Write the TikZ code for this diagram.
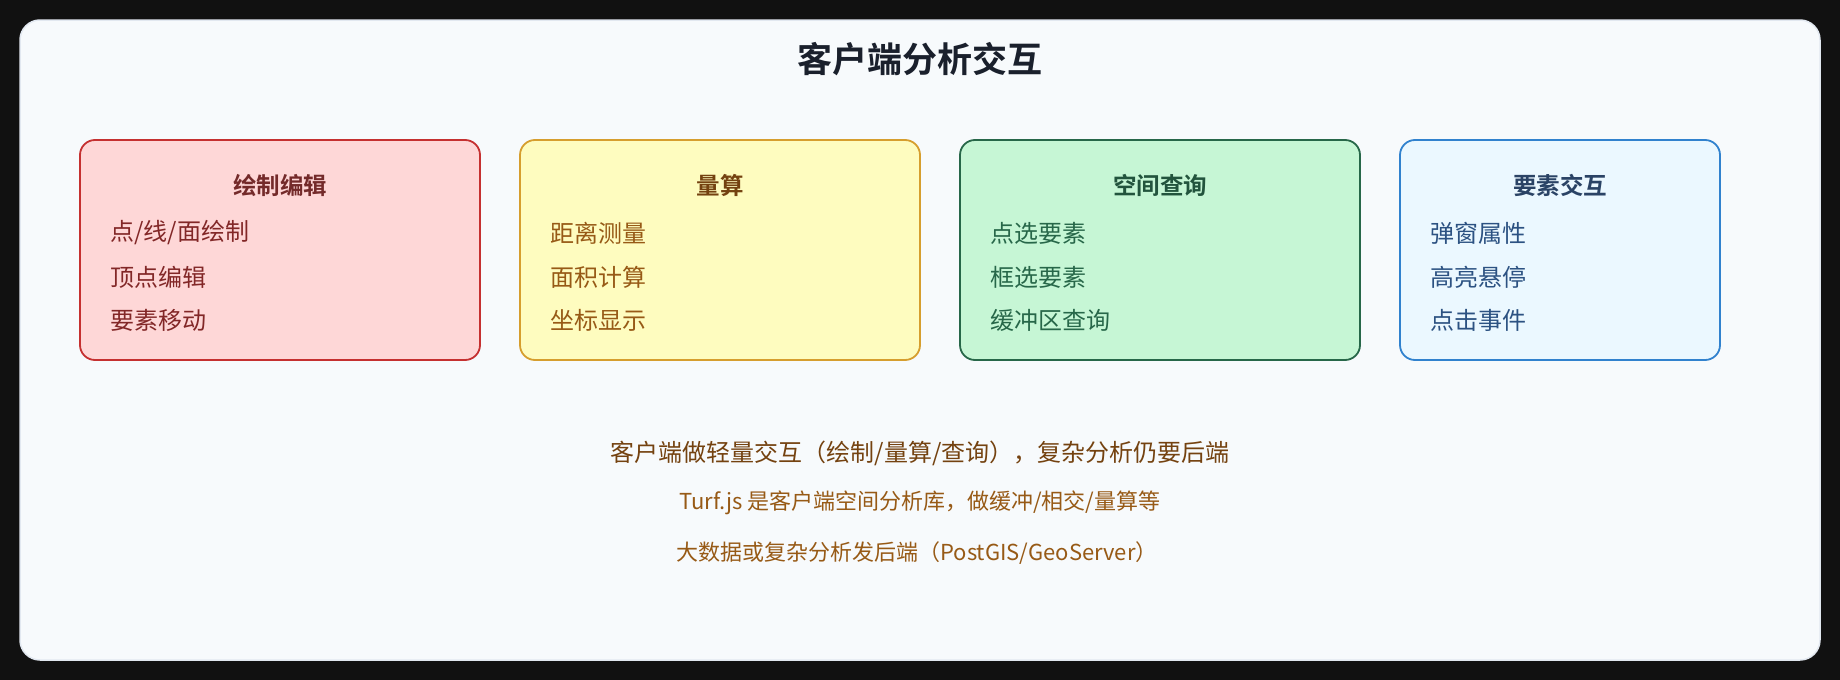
\documentclass[tikz,border=0pt]{standalone}
\usepackage{fontspec}
\setmainfont{Noto Sans CJK SC}
\newfontfamily\cjkb{Noto Sans CJK SC Bold}
\definecolor{bgdark}{HTML}{111111}
\definecolor{cardfill}{HTML}{F7FAFC}
\definecolor{cardline}{HTML}{E2E8F0}
\definecolor{titlecol}{HTML}{1A202C}
\definecolor{rfill}{HTML}{FED7D7}\definecolor{rline}{HTML}{C53030}\definecolor{rtitle}{HTML}{742A2A}\definecolor{ritem}{HTML}{822727}
\definecolor{yfill}{HTML}{FEFCBF}\definecolor{yline}{HTML}{D69E2E}\definecolor{ytitle}{HTML}{744210}\definecolor{yitem}{HTML}{975A16}
\definecolor{gfill}{HTML}{C6F6D5}\definecolor{gline}{HTML}{276749}\definecolor{gtitle}{HTML}{22543D}\definecolor{gitem}{HTML}{276749}
\definecolor{bfill}{HTML}{EBF8FF}\definecolor{bline}{HTML}{3182CE}\definecolor{btitle}{HTML}{2A4365}\definecolor{bitem}{HTML}{2C5282}
\definecolor{note}{HTML}{744210}\definecolor{subnote}{HTML}{975A16}
\tikzset{
  panel/.style={draw=#1line, fill=#1fill, line width=1.8pt, rounded corners=15pt},
  ptitle/.style={inner sep=0pt, anchor=center, text=#1title, font=\cjkb\fontsize{23.5}{28}\selectfont},
  pitem/.style={inner sep=0pt, anchor=west, text=#1item, font=\fontsize{24}{28}\selectfont},
}
\begin{document}
\begin{tikzpicture}[x=1pt,y=-1pt]
\fill[bgdark] (0,0) rectangle (1840,680);
\useasboundingbox (0,0) rectangle (1840,680);
\draw[fill=cardfill, draw=cardline, line width=1.5pt, rounded corners=20pt] (20,20) rectangle (1820,660);
\node[inner sep=0pt, text=titlecol, font=\cjkb\fontsize{35}{42}\selectfont] (title) at (920,59) {客户端分析交互};
% panels
\draw[panel=r] (80,140) rectangle (480,360);
\draw[panel=y] (520,140) rectangle (920,360);
\draw[panel=g] (960,140) rectangle (1360,360);
\draw[panel=b] (1400,140) rectangle (1720,360);
\node[ptitle=r] (t1) at (280,185) {绘制编辑};
\node[pitem=r] (a1) at (110,233) {点/线/面绘制};
\node[pitem=r] (a2) at (110,277) {顶点编辑};
\node[pitem=r] (a3) at (110,320) {要素移动};
\node[ptitle=y] (t2) at (720,185) {量算};
\node[pitem=y] (b1) at (550,233) {距离测量};
\node[pitem=y] (b2) at (550,277) {面积计算};
\node[pitem=y] (b3) at (550,320) {坐标显示};
\node[ptitle=g] (t3) at (1160,185) {空间查询};
\node[pitem=g] (c1) at (990,233) {点选要素};
\node[pitem=g] (c2) at (990,277) {框选要素};
\node[pitem=g] (c3) at (990,320) {缓冲区查询};
\node[ptitle=b] (t4) at (1560,185) {要素交互};
\node[pitem=b] (d1) at (1430,233) {弹窗属性};
\node[pitem=b] (d2) at (1430,277) {高亮悬停};
\node[pitem=b] (d3) at (1430,320) {点击事件};
% notes
\node[inner sep=0pt, text=note, font=\fontsize{24}{28}\selectfont] (n1) at (920,453) {客户端做轻量交互（绘制/量算/查询），复杂分析仍要后端};
\node[inner sep=0pt, text=subnote, font=\fontsize{22}{26}\selectfont] (n2) at (920,503) {Turf.js 是客户端空间分析库，做缓冲/相交/量算等};
\node[inner sep=0pt, text=subnote, font=\fontsize{22}{26}\selectfont] (n3) at (917,553) {大数据或复杂分析发后端（PostGIS/GeoServer）};
\end{tikzpicture}
\end{document}
